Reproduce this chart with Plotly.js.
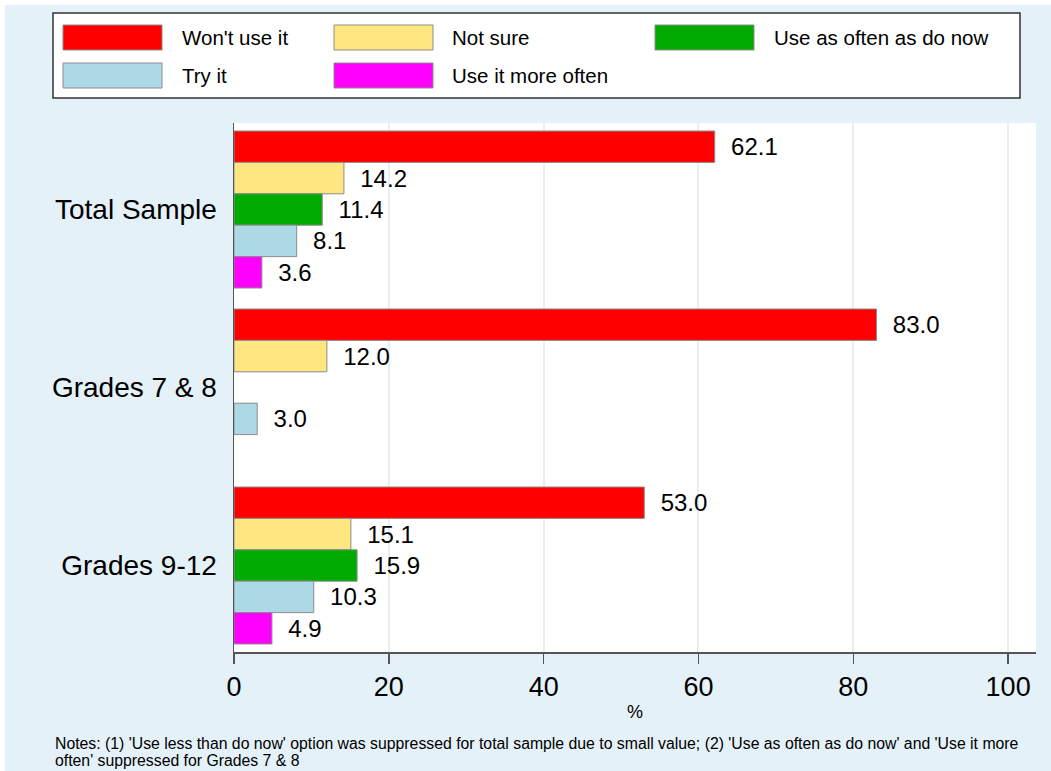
<!DOCTYPE html>
<html>
<head>
<meta charset="utf-8">
<script src="https://cdn.plot.ly/plotly-3.0.1.min.js"></script>
<style>
  html, body { margin: 0; padding: 0; background: #ffffff; }
  #chart { position: absolute; left: 5px; top: 5px; width: 1046px; height: 766px; }
</style>
</head>
<body>
<div id="chart"></div>
<script>
// ---- Data ----
const categories = ['Total Sample', 'Grades 7 & 8', 'Grades 9-12'];
const seriesNames = ["Won't use it", 'Not sure', 'Use as often as do now', 'Try it', 'Use it more often'];
const wontUse    = [62.1, 83.0, 53.0];
const notSure    = [14.2, 12.0, 15.1];
const useAsOften = [11.4, null, 15.9];
const tryIt      = [8.1, 3.0, 10.3];
const useMore    = [3.6, null, 4.9];
const xTicks     = [0, 20, 40, 60, 80, 100];
const xAxisLabel = '%';
const noteLines = [
  "Notes: (1) 'Use less than do now' option was suppressed for total sample due to small value; (2) 'Use as often as do now' and 'Use it more",
  "often' suppressed for Grades 7 & 8"
];

// ---- Styles ----
const seriesValues = [wontUse, notSure, useAsOften, tryIt, useMore];
const colors = ['#FF0000', '#FFE680', '#00AA00', '#ADD8E6', '#FF00FF'];
const FONT = 'Liberation Sans, Arial, sans-serif';
const BG = '#E5F1F8';

const traces = seriesValues.map((vals, i) => ({
  type: 'bar',
  orientation: 'h',
  name: seriesNames[i],
  y: categories,
  x: vals,
  marker: { color: colors[i], line: { color: '#8C8C8C', width: 1 } },
  texttemplate: '\u00a0\u00a0%{x:.1f}',
  textposition: 'outside',
  constraintext: 'none',
  cliponaxis: false,
  textfont: { family: FONT, size: 24, color: '#000000' },
  showlegend: false,
  hoverinfo: 'skip'
}));

// pixel (reference image coords) -> paper fraction of plot area
const PL = 234, PR = 1036, PT = 123, PB = 652;
const px = x => (x - PL) / (PR - PL);
const py = y => (PB - y) / (PB - PT);

// custom legend: box + swatches + labels
const shapes = [{
  type: 'rect', xref: 'paper', yref: 'paper',
  x0: px(53), x1: px(1020), y0: py(13), y1: py(98),
  fillcolor: '#FFFFFF', line: { color: '#333333', width: 1.5 }
}];
const annotations = [];
const colSw = [63, 334, 655];
const colTx = [180, 450, 772];
const rowTop = [25, 63];
seriesNames.forEach((nm, i) => {
  const r = Math.floor(i / 3), c = i % 3;
  shapes.push({
    type: 'rect', xref: 'paper', yref: 'paper',
    x0: px(colSw[c]), x1: px(colSw[c] + 99), y0: py(rowTop[r]), y1: py(rowTop[r] + 25),
    fillcolor: colors[i], line: { color: '#8C8C8C', width: 1 }
  });
  annotations.push({
    xref: 'paper', yref: 'paper', x: px(colTx[c]), y: py(rowTop[r] + 12.5),
    xanchor: 'left', yanchor: 'middle', showarrow: false,
    text: nm, font: { family: FONT, size: 20.5, color: '#000000' }
  });
});
const noteY = [744, 760];
noteLines.forEach((ln, i) => {
  annotations.push({
    xref: 'paper', yref: 'paper', x: px(53), y: py(noteY[i]),
    xanchor: 'left', yanchor: 'middle', align: 'left', showarrow: false,
    text: ln, font: { family: FONT, size: 15.8, color: '#000000' }
  });
});

const layout = {
  width: 1046, height: 766,
  margin: { l: 229, r: 15, t: 118, b: 119, pad: 0 },
  paper_bgcolor: BG,
  plot_bgcolor: '#FFFFFF',
  barmode: 'group',
  bargap: 0.118,
  bargroupgap: 0,
  font: { family: FONT, color: '#000000' },
  xaxis: {
    range: [0, 103.6],
    tickvals: xTicks,
    ticktext: xTicks.map(String),
    ticks: 'outside', ticklen: 10, tickwidth: 1.5, tickcolor: '#555555',
    tickfont: { family: FONT, size: 27, color: '#000000' },
    showgrid: true, gridcolor: '#E6EFF5', gridwidth: 2,
    zeroline: false,
    showline: true, linecolor: '#555555', linewidth: 1.5,
    title: { text: xAxisLabel, font: { family: FONT, size: 18, color: '#000000' }, standoff: 4 }
  },
  yaxis: {
    type: 'category',
    range: [2.486, -0.486],
    ticks: 'outside', ticklen: 10, tickcolor: 'rgba(0,0,0,0)',
    tickfont: { family: FONT, size: 28, color: '#000000' },
    showgrid: false, zeroline: false,
    showline: true, linecolor: '#555555', linewidth: 1.5
  },
  shapes: shapes,
  annotations: annotations,
  hovermode: false
};

Plotly.newPlot('chart', traces, layout, { displayModeBar: false, staticPlot: true });
</script>
</body>
</html>
